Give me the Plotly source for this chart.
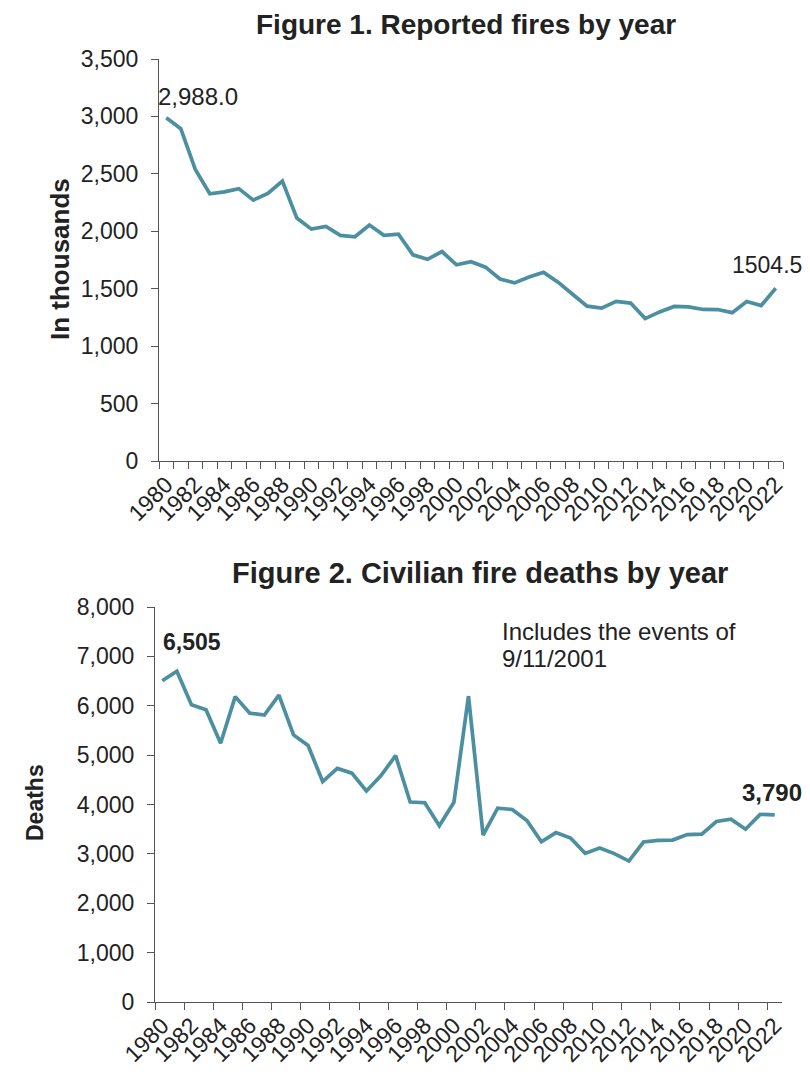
import plotly.graph_objects as go

years = list(range(1980, 2023))
fires_thousands = [2988.0, 2893.5, 2538.0, 2326.5, 2343.0, 2371.0, 2271.5, 2330.0, 2436.5, 2115.0,
                   2019.0, 2041.5, 1964.5, 1952.5, 2054.5, 1965.5, 1975.0, 1795.0, 1755.5, 1823.0,
                   1708.0, 1734.5, 1687.5, 1584.5, 1550.5, 1602.0, 1642.5, 1557.5, 1451.5, 1348.5,
                   1331.5, 1389.5, 1375.0, 1240.0, 1298.0, 1345.5, 1342.0, 1319.5, 1318.5, 1291.5,
                   1388.5, 1353.5, 1504.5]
deaths = [6505, 6700, 6020, 5920, 5240, 6185, 5850, 5810, 6215, 5410,
          5195, 4465, 4730, 4635, 4275, 4585, 4990, 4050, 4035, 3570,
          4045, 6196, 3380, 3925, 3900, 3675, 3245, 3430, 3320, 3010,
          3120, 3005, 2855, 3240, 3275, 3280, 3390, 3400, 3655, 3704,
          3500, 3800, 3790]
label_years = list(range(1980, 2023, 2))

LINE = "#4b8fa0"
TXT = "#222222"
AX = "#555555"
FONT = "Liberation Sans, Arial, sans-serif"
W, H, OFF = 810, 1080, 8  # page body margin offset


def px(x):
    return (x - OFF) / W


def py(y):
    return 1 - (y - OFF) / H


fig = go.Figure()
fig.add_trace(go.Scatter(x=years, y=fires_thousands, mode="lines",
                         line=dict(color=LINE, width=3.7), xaxis="x", yaxis="y",
                         showlegend=False, hoverinfo="skip"))
fig.add_trace(go.Scatter(x=years, y=deaths, mode="lines",
                         line=dict(color=LINE, width=3.7), xaxis="x2", yaxis="y2",
                         showlegend=False, hoverinfo="skip"))

tickfont = dict(family=FONT, size=23, color=TXT)


def xaxis(domain, anchor, minor_dtick):
    return dict(domain=domain, anchor=anchor, range=[1979.5, 2022.5], automargin=False,
                tickvals=label_years, ticktext=[str(y) for y in label_years],
                tickangle=-45, ticks="", showgrid=False, zeroline=False,
                showline=True, linecolor=AX, linewidth=1.2, tickfont=tickfont,
                minor=dict(tick0=1979.5, dtick=minor_dtick, ticks="outside",
                           ticklen=7, tickcolor=AX, tickwidth=1.2, showgrid=False))


def yaxis(domain, anchor, rng, dtick):
    return dict(domain=domain, anchor=anchor, range=rng, dtick=dtick, automargin=False,
                tickformat=",d", ticks="outside", ticklen=7, tickcolor=AX, tickwidth=1.2,
                showgrid=False, zeroline=False, showline=True, linecolor=AX, linewidth=1.2,
                tickfont=tickfont, ticklabelstandoff=8)


fig.update_layout(
    width=W, height=H,
    margin=dict(l=0, r=0, t=0, b=0, autoexpand=False),
    paper_bgcolor="white", plot_bgcolor="white",
    font=dict(family=FONT, color=TXT),
    xaxis=xaxis([px(159), px(783)], "y", 1),
    yaxis=yaxis([py(461), py(59)], "x", [0, 3500], 500),
    xaxis2=xaxis([px(155), px(782)], "y2", 2),
    yaxis2=yaxis([py(1002), py(607)], "x2", [0, 8000], 1000),
)

ann = []
# titles
ann.append(dict(text="<b>Figure 1. Reported fires by year</b>", x=px(466), y=1.0,
                xref="paper", yref="paper", xanchor="center", yanchor="top",
                showarrow=False, borderpad=0, font=dict(family=FONT, size=28, color=TXT)))
ann.append(dict(text="<b>Figure 2. Civilian fire deaths by year</b>", x=px(480), y=py(573),
                xref="paper", yref="paper", xanchor="center", yanchor="middle",
                showarrow=False, font=dict(family=FONT, size=29, color=TXT)))
# axis titles
ann.append(dict(text="<b>In thousands</b>", x=px(60), y=py(259), xref="paper", yref="paper",
                textangle=-90, xanchor="center", yanchor="middle", showarrow=False,
                font=dict(family=FONT, size=26, color=TXT)))
ann.append(dict(text="<b>Deaths</b>", x=px(35), y=py(803), xref="paper", yref="paper",
                textangle=-90, xanchor="center", yanchor="middle", showarrow=False,
                font=dict(family=FONT, size=23, color=TXT)))
# data labels
ann.append(dict(text="2,988.0", x=years[0], y=fires_thousands[0], xref="x", yref="y",
                xanchor="left", yanchor="bottom", xshift=-10, yshift=6, showarrow=False,
                font=dict(family=FONT, size=24, color=TXT)))
ann.append(dict(text="1504.5", x=years[-1], y=fires_thousands[-1], xref="x", yref="y",
                xanchor="right", yanchor="bottom", xshift=28, yshift=8, showarrow=False,
                font=dict(family=FONT, size=23, color=TXT)))
ann.append(dict(text="<b>6,505</b>", x=years[0], y=deaths[0], xref="x2", yref="y2",
                xanchor="left", yanchor="bottom", xshift=-1, yshift=24, showarrow=False,
                font=dict(family=FONT, size=23, color=TXT)))
ann.append(dict(text="<b>3,790</b>", x=years[-1], y=deaths[-1], xref="x2", yref="y2",
                xanchor="right", yanchor="bottom", xshift=29, yshift=7, showarrow=False,
                font=dict(family=FONT, size=24, color=TXT)))
ann.append(dict(text="Includes the events of", x=px(500), y=py(632),
                xref="paper", yref="paper", xanchor="left", yanchor="middle", align="left",
                showarrow=False, font=dict(family=FONT, size=24, color=TXT)))
ann.append(dict(text="9/11/2001", x=px(500), y=py(658),
                xref="paper", yref="paper", xanchor="left", yanchor="middle", align="left",
                showarrow=False, font=dict(family=FONT, size=24, color=TXT)))
fig.update_layout(annotations=ann)

fig.write_html("out.html")
